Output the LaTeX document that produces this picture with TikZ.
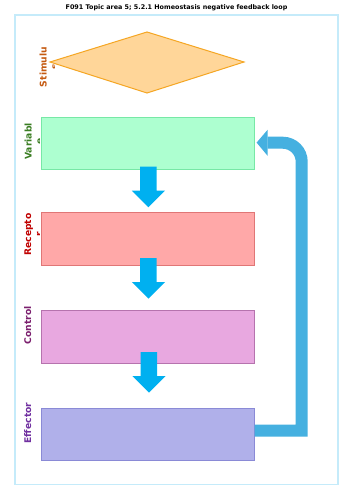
\documentclass[tikz,border=0pt]{standalone}
\usepackage{fontspec}
\setmainfont{DejaVu Sans}
\usetikzlibrary{calc}
\definecolor{framec}{HTML}{C5EBFA}
\definecolor{diafill}{HTML}{FFD699}
\definecolor{diadraw}{HTML}{F5A623}
\definecolor{stimc}{HTML}{C55A11}
\definecolor{varfill}{HTML}{ADFFD0}
\definecolor{vardraw}{HTML}{77E8A6}
\definecolor{varc}{HTML}{3A7D22}
\definecolor{recfill}{HTML}{FFA8A8}
\definecolor{recdraw}{HTML}{E07676}
\definecolor{recc}{HTML}{C00000}
\definecolor{ctlfill}{HTML}{E8A8E0}
\definecolor{ctldraw}{HTML}{B673AE}
\definecolor{ctlc}{HTML}{7B1F6E}
\definecolor{efffill}{HTML}{B0B0EA}
\definecolor{effdraw}{HTML}{8A8AD6}
\definecolor{effc}{HTML}{7030A0}
\definecolor{flowc}{HTML}{00B0F0}
\definecolor{backc}{HTML}{45B0E0}
\tikzset{
  stagebox/.style={draw=#1draw, fill=#1fill, line width=1pt, minimum width=213pt, minimum height=52.5pt, inner sep=0pt},
  sidelabel/.style={rotate=90, align=center, inner sep=0pt, font=\fontsize{9.2}{11}\selectfont\bfseries, text=#1},
  flow/.style={fill=flowc},
  back/.style={draw=backc, line width=12pt},
}
\begin{document}
\begin{tikzpicture}[x=1pt,y=-1pt]
\useasboundingbox (0,0) rectangle (353,500);
\fill[white] (0,0) rectangle (353,500);
\node[font=\fontsize{6.4}{7}\selectfont\bfseries] (title) at (176.5,8) {F091 Topic area 5; 5.2.1 Homeostasis negative feedback loop};
\draw[framec, line width=1.5pt] (15,15) rectangle (338,484.5);
% side labels (clipped like the original text boxes)
\begin{scope}
\clip (15,15) rectangle (54.3,100);
\node[sidelabel=stimc] (lstim) at (48.6,67) {Stimulu\\s};
\end{scope}
\begin{scope}
\clip (15,100) rectangle (39.8,200);
\node[sidelabel=varc] (lvar) at (33.6,141.5) {Variabl\\e};
\end{scope}
\begin{scope}
\clip (15,200) rectangle (39.3,290);
\node[sidelabel=recc] (lrec) at (33.2,234.5) {Recepto\\r};
\end{scope}
\node[sidelabel=ctlc] (lctl) at (27.8,325.5) {Control};
\node[sidelabel=effc] (leff) at (27.8,423) {Effector};
% diamond
\coordinate (dl) at (50,62);
\coordinate (dt) at (147,32);
\coordinate (dr) at (244,62);
\coordinate (db) at (147,93);
\filldraw[fill=diafill, draw=diadraw, line width=1pt, line join=miter] (dl) -- (dt) -- (dr) -- (db) -- cycle;
% boxes
\node[stagebox=var] (var) at (147.6,143.6) {};
\node[stagebox=rec] (rec) at (147.6,238.9) {};
\node[stagebox=ctl] (ctl) at (147.6,337) {};
\node[stagebox=eff] (eff) at (147.6,434.7) {};
% down arrows
\coordinate (a1) at (148.4,166.7);
\coordinate (a2) at (148.4,258);
\coordinate (a3) at (148.9,352);
\foreach \a in {a1,a2,a3}{
  \fill[flow] ($(\a)+(-8.3,0)$) -- ++(16.6,0) -- ++(0,24) -- ++(8.3,0) -- ++(-16.6,16.6) -- ++(-16.6,-16.6) -- ++(8.3,0) -- cycle;
}
% feedback loop
\coordinate (fb1) at ($(eff.east |- 0,430.5)$);
\coordinate (fbc) at (301.7,430.5);
\coordinate (fbh) at (267.6,142.7);
\draw[back, line join=miter] (fb1) -- (fbc) -- (301.7,161.7) arc (0:-90:19) -- (fbh);
\fill[backc] ($(var.east)+(2,-1)$) -- (267.6,129.8) -- (267.6,155.8) -- cycle;
\end{tikzpicture}
\end{document}
